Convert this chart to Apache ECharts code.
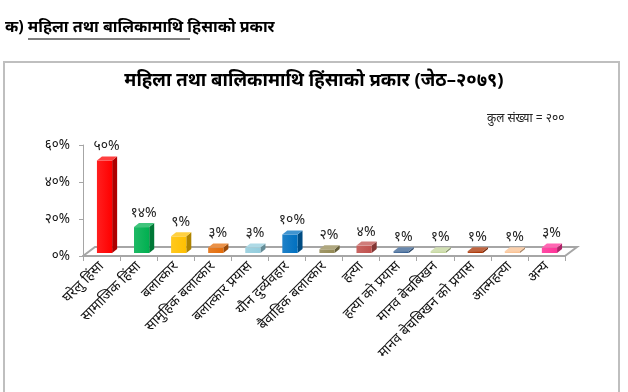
<!DOCTYPE html>
<html><head><meta charset="utf-8">
<script src="https://cdn.jsdelivr.net/npm/echarts@6/dist/echarts.min.js"></script>
<style>html,body{margin:0;padding:0;background:#fff}#c{width:628px;height:392px}</style>
</head><body><div id="c"></div>
<script>
const heading = 'क) महिला तथा बालिकामाथि हिसाको प्रकार';
const chartTitle = 'महिला तथा बालिकामाथि हिंसाको प्रकार (जेठ–२०७९)';
const totalNote = 'कुल संख्या = २००';
const categories = ['घरेलु हिंसा','सामाजिक हिंसा','बलात्कार','सामुहिक बलात्कार','बलात्कार प्रयास','यौन दुर्व्यवहार','बैवाहिक बलात्कार','हत्या','हत्या को प्रयास','मानव बेचबिखन','मानव बेचबिखन को प्रयास','आत्महत्या','अन्य'];
const values = [50,14,9,3,3,10,2,4,1,1,1,1,3];
const barColors = ['#FF0000','#00B050','#FFC000','#E46C0A','#93CDDD','#0070C0','#948A54','#C0504D','#376092','#C3D69B','#A93100','#FAC090','#FF3399'];
const yTicks = [0,20,40,60];

const devDigits = '०१२३४५६७८९';
function toDev(n){return String(n).replace(/[0-9]/g,d=>devDigits[+d]);}
function shade(hex,f){
  const n=parseInt(hex.slice(1),16);let r=n>>16,g=(n>>8)&255,b=n&255;
  if(f<1){r*=f;g*=f;b*=f;}else{r=r+(255-r)*(f-1);g=g+(255-g)*(f-1);b=b+(255-b)*(f-1);}
  return 'rgb('+Math.round(r)+','+Math.round(g)+','+Math.round(b)+')';
}
const FONT = '"Noto Sans", sans-serif';

const chart = echarts.init(document.getElementById('c'));
function renderBar(params, api){
  const i = api.value(0), v = api.value(1);
  const top = api.coord([i, v]), base = api.coord([i, 0]);
  const w = api.size([1,0])[0]*0.41;
  const sx=3, sy=-3, dx=5, dy=-4;
  const x0 = base[0]-w/2+sx, x1 = x0+w;
  const yb = base[1]+sy, yt = top[1]+sy;
  const c = barColors[params.dataIndex];
  return {type:'group', children:[
    {type:'polygon', shape:{points:[[x1,yb],[x1+dx,yb+dy],[x1+dx,yt+dy],[x1,yt]]}, style:{fill:shade(c,0.68)}},
    {type:'rect', shape:{x:x0,y:yt,width:w,height:Math.max(yb-yt,0.5)}, style:{fill:new echarts.graphic.LinearGradient(0,0,1,0,[{offset:0,color:shade(c,1.12)},{offset:1,color:c}])}},
    {type:'polygon', shape:{points:[[x0,yt],[x0+dx,yt+dy],[x1+dx,yt+dy],[x1,yt]]}, style:{fill:shade(c,1.25)}},
    {type:'text', x:(x0+x1)/2+2, y:yt+dy-3, style:{text:toDev(v)+'%', fill:'#222', font:'14px '+FONT, align:'center', verticalAlign:'bottom'}}
  ]};
}
function renderFloor(params, api){
  const cs = params.coordSys;
  const x0=cs.x, x1=cs.x+cs.width, y0=cs.y+cs.height;
  const dx=12, dy=-9;
  return {type:'group', children:[
    {type:'polyline', shape:{points:[[x0,y0],[x0+dx,y0+dy],[x1+dx,y0+dy],[x1,y0]]}, style:{stroke:'#a6a6a6', lineWidth:2, fill:null}}
  ]};
}
chart.setOption({
  animation:false,
  textStyle:{fontFamily:FONT},
  graphic:[
    {type:'rect', shape:{x:4,y:62,width:615,height:340}, style:{fill:null, stroke:'#bfbfbf', lineWidth:2}},
    {type:'text', left:5, top:19, style:{text:heading, font:'bold 16px '+FONT, fill:'#000'}},
    {type:'line', shape:{x1:28,y1:39,x2:190,y2:39}, style:{stroke:'#000', lineWidth:1}},
    {type:'text', left:'center', top:71, style:{text:chartTitle, font:'bold 18.5px '+FONT, fill:'#000'}},
    {type:'text', left:487, top:113, style:{text:totalNote, font:'12px '+FONT, fill:'#222'}}
  ],
  grid:{left:83, right:63, top:145, bottom:136, containLabel:false},
  xAxis:{type:'category', data:categories, boundaryGap:true,
    axisLine:{lineStyle:{color:'#a6a6a6', width:2}},
    axisTick:{show:true, length:5, lineStyle:{color:'#a6a6a6'}},
    axisLabel:{rotate:45, interval:0, margin:8, fontSize:14, color:'#111', fontFamily:FONT}},
  yAxis:{type:'value', min:0, max:60, interval:20,
    axisLine:{show:true, lineStyle:{color:'#a6a6a6', width:1}},
    axisTick:{show:true, length:4, lineStyle:{color:'#a6a6a6'}},
    splitLine:{show:false},
    axisLabel:{formatter:v=>toDev(v)+'%', fontSize:13.5, color:'#111', margin:13, fontFamily:FONT}},
  series:[
    {type:'custom', renderItem:renderFloor, data:[[0,0]], z:1, silent:true},
    {type:'custom', renderItem:renderBar, data:values.map((v,i)=>[i,v]), encode:{x:0,y:1}, z:2}
  ]
});
</script></body></html>
